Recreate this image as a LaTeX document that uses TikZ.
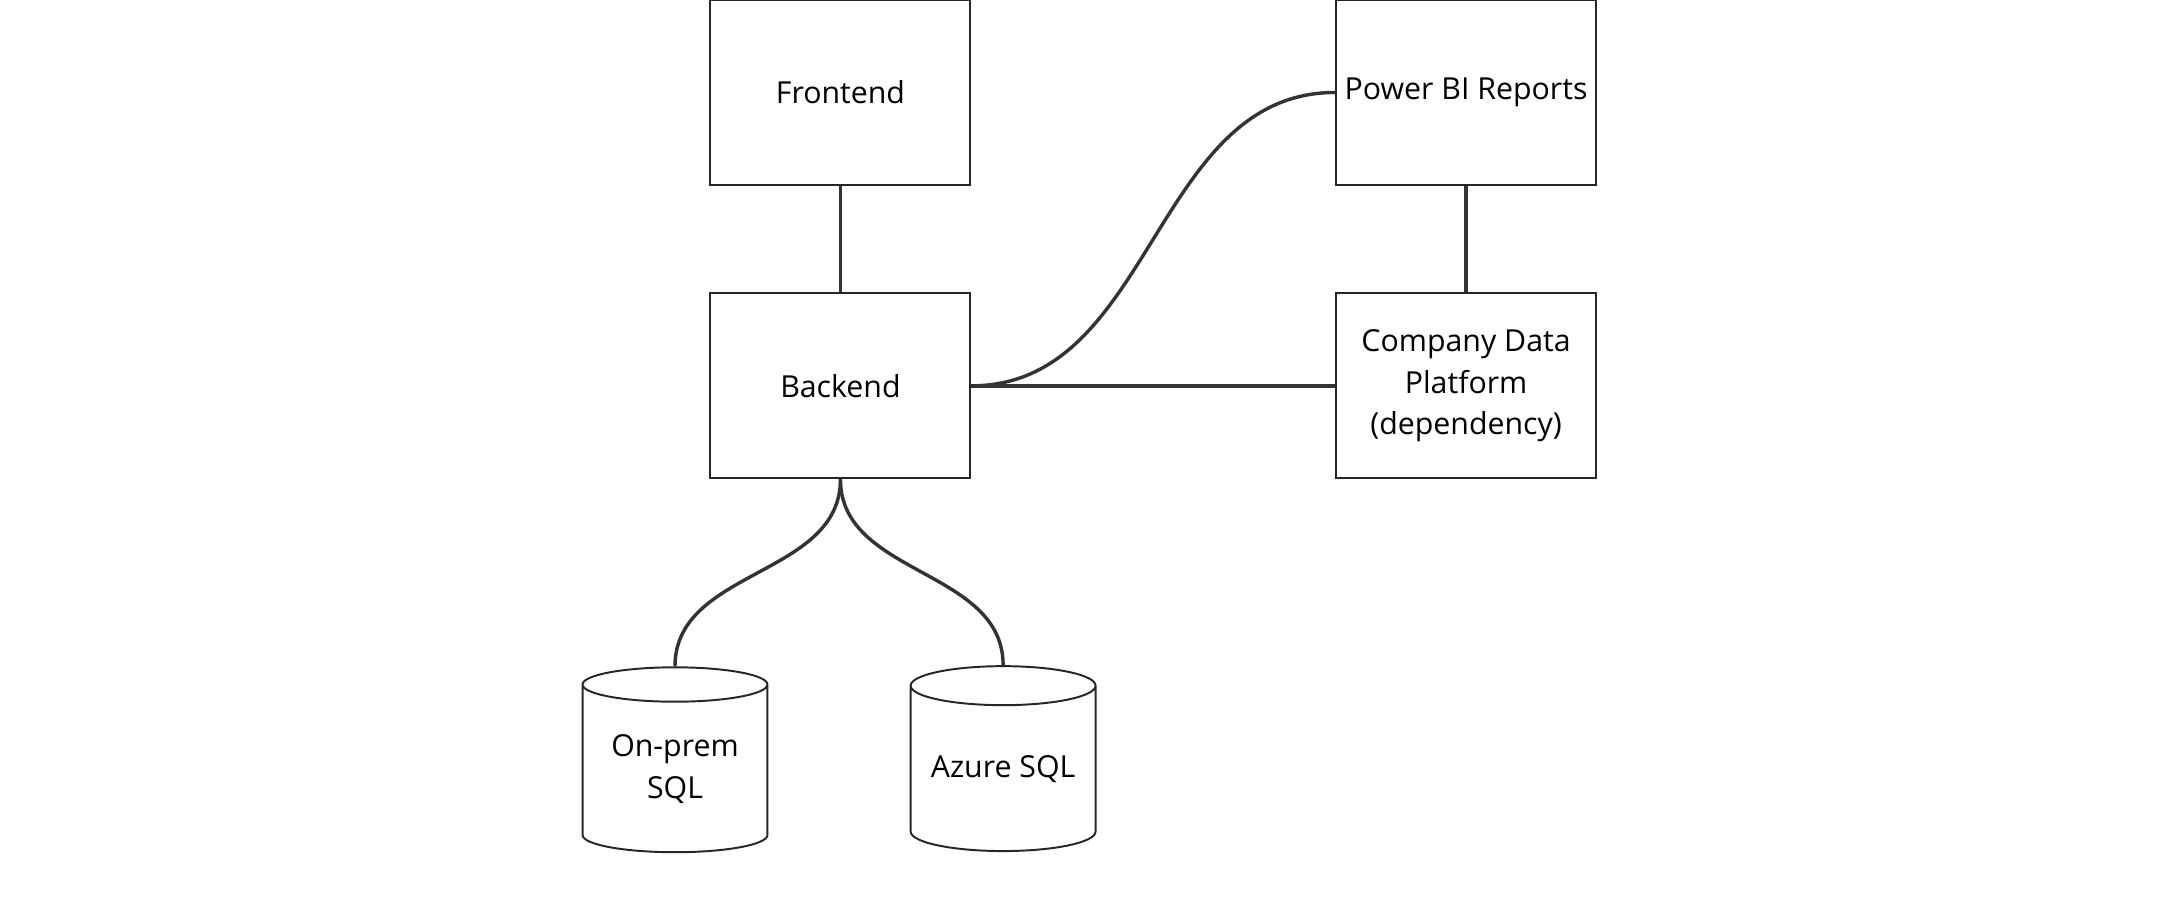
\documentclass[tikz,border=0pt]{standalone}
\usepackage{fontspec}
\setmainfont{Open Sans}
\usetikzlibrary{shapes.geometric}
\begin{document}
\begin{tikzpicture}[x=0.2mm,y=-0.2mm]
\tikzset{
    caja/.style={draw=black!85, line width=0.8pt, minimum width=3.74cm, minimum height=2.66cm, inner sep=1pt, align=center, font=\fontsize{12.4}{17}\selectfont},
    base/.style={cylinder, shape border rotate=90, aspect=0.27, draw=black!85, line width=0.8pt, minimum width=2.66cm, minimum height=2.66cm, align=center, inner sep=0pt, font=\fontsize{12.4}{17}\selectfont},
    enlace/.style={draw=black!80, line width=1.4pt}
}
\useasboundingbox (0,0) rectangle (1568,660);
\node[caja] (frontend) at (604.5,66.5) {Frontend};
\node[caja] (backend) at (604.5,277.5) {Backend};
\node[caja] (powerbi) at (1054.5,66.5) {Power BI Reports};
\node[caja] (plataforma) at (1054.5,277.5) {Company Data\\Platform\\(dependency)};
\node[base] (onprem) at (485.5,553) {On-prem\\SQL};
\node[base] (azure) at (721.5,553) {Azure SQL};
\draw[enlace] (frontend.south) -- (backend.north);
\draw[enlace] (powerbi.south) -- (plataforma.north);
\draw[enlace] (backend.east) -- (plataforma.west);
\draw[enlace] (backend.east) to[out=0,in=180] (powerbi.west);
\draw[enlace] (backend.south) to[out=-90,in=90] (onprem.top);
\draw[enlace] (backend.south) to[out=-90,in=90] (azure.top);
\end{tikzpicture}
\end{document}
